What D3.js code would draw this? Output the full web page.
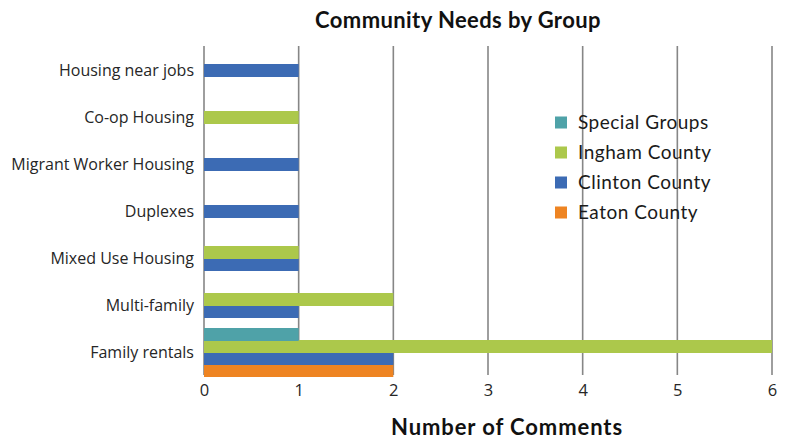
<!DOCTYPE html>
<html><head><meta charset="utf-8">
<script src="https://cdn.jsdelivr.net/npm/d3@7"></script>
<style>body{margin:0;background:#fff}svg{display:block}</style>
</head><body>
<script>
const categories = ["Housing near jobs","Co-op Housing","Migrant Worker Housing","Duplexes","Mixed Use Housing","Multi-family","Family rentals"];
const seriesNames = ["Special Groups","Ingham County","Clinton County","Eaton County"];
const seriesColors = ["#4FA2A8","#ACC84B","#3C6BB4","#EE8422"];
const specialGroups = [0,0,0,0,0,0,1];
const inghamCounty  = [0,1,0,0,1,2,6];
const clintonCounty = [1,0,1,1,1,1,2];
const eatonCounty   = [0,0,0,0,0,0,2];
const xTicks = [0,1,2,3,4,5,6];
const seriesValues = [specialGroups, inghamCounty, clintonCounty, eatonCounty];

const W = 785, H = 439;
const svg = d3.select("body").append("svg").attr("width", W).attr("height", H);

const x = d3.scaleLinear().domain([0,6]).range([204,772]);
const y = d3.scaleBand().domain(categories).range([47,376]).padding(0);
const barH = 13, step = 12;

// gridlines
svg.append("g").selectAll("line").data(xTicks).join("line")
  .attr("x1", d => x(d)).attr("x2", d => x(d))
  .attr("y1", 46).attr("y2", 375)
  .attr("stroke", "#868686").attr("stroke-width", 1.6);

// bars
const barData = [];
categories.forEach((c, ci) => {
  const present = seriesNames.map((s, si) => ({s, si, v: seriesValues[si][ci]})).filter(d => d.v > 0);
  const n = present.length;
  const center = y(c) + y.bandwidth()/2;
  present.forEach((d, k) => {
    barData.push({c, si: d.si, v: d.v, yc: center + (k - (n-1)/2) * step});
  });
});
barData.sort((a,b) => b.si - a.si);
svg.append("g").selectAll("rect").data(barData).join("rect")
  .attr("x", x(0))
  .attr("y", d => d.yc - barH/2)
  .attr("width", d => x(d.v) - x(0))
  .attr("height", barH)
  .attr("fill", d => seriesColors[d.si]);

// y labels
svg.append("g").selectAll("text").data(categories).join("text")
  .attr("x", 194).attr("y", d => y(d) + y.bandwidth()/2)
  .attr("dy", "0.35em").attr("text-anchor", "end")
  .attr("font-family", "'Open Sans', sans-serif").attr("font-size", 16)
  .attr("fill", "#262626").text(d => d);

// x tick labels
const xAxis = d3.axisBottom(x).tickValues(xTicks).tickSize(0).tickPadding(0).tickFormat(d3.format("d"));
const gx = svg.append("g").attr("transform", "translate(0,384)").call(xAxis);
gx.select(".domain").remove();
gx.selectAll("text").attr("font-family", "'Open Sans', sans-serif").attr("font-size", 16.5).attr("fill", "#262626");

// title
svg.append("text").attr("x", 458).attr("y", 28).attr("text-anchor", "middle")
  .attr("font-family", "Lato, sans-serif").attr("font-weight", "bold").attr("font-size", 22)
  .attr("letter-spacing", 0.4)
  .attr("fill", "#111").text("Community Needs by Group");

// axis title
svg.append("text").attr("x", 507).attr("y", 435).attr("text-anchor", "middle")
  .attr("font-family", "Lato, sans-serif").attr("font-weight", "bold").attr("font-size", 22)
  .attr("letter-spacing", 0.9)
  .attr("fill", "#111").text("Number of Comments");

// legend
const lg = svg.append("g").selectAll("g").data(seriesNames).join("g")
  .attr("transform", (d,i) => `translate(555,${122.5 + i*30})`);
lg.append("rect").attr("x", 0).attr("y", -6).attr("width", 12).attr("height", 12)
  .attr("fill", (d,i) => seriesColors[i]);
lg.append("text").attr("x", 23).attr("y", 0).attr("dy", "0.35em")
  .attr("font-family", "Lato, sans-serif").attr("font-size", 19).attr("letter-spacing", 0.5)
  .attr("fill", "#1a1a1a").text(d => d);
</script>
</body></html>
